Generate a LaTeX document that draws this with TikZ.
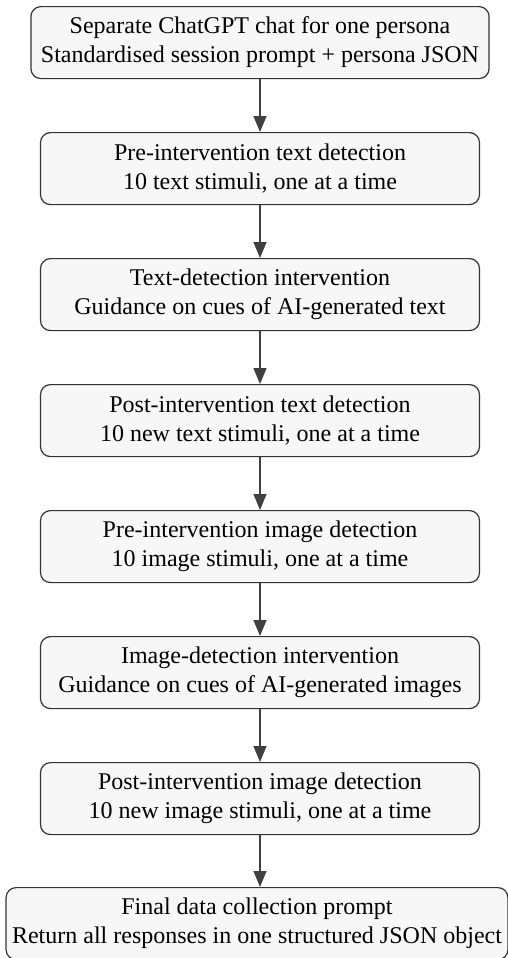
\documentclass[tikz,border=0pt]{standalone}
\usepackage{fontspec}
\setmainfont{Liberation Serif}
\usepackage{xcolor}
\usetikzlibrary{arrows.meta, positioning}

\begin{document}
\begin{tikzpicture}[
  x=1pt, y=1pt,
  every node/.style={font=\fontsize{12}{14.5}\selectfont},
  stage/.style={rectangle, draw=black!80, line width=0.6pt, fill=gray!6,
                rounded corners=5pt, minimum width=219.5pt,
                minimum height=36pt, inner xsep=5pt, align=center},
  flow/.style={-{Triangle[width=6.5pt,length=8pt]}, line width=0.6pt, black!75},
]
  \useasboundingbox (0,0) rectangle (254,-479);

  \node[stage, anchor=north] (chat) at (130,-3)
    {Separate ChatGPT chat for one persona\\Standardised session prompt + persona JSON};
  \node[stage, anchor=north] (pretext) at (130,-66)
    {Pre-intervention text detection\\10 text stimuli, one at a time};
  \node[stage, anchor=north] (textint) at (130,-129)
    {Text-detection intervention\\Guidance on cues of AI-generated text};
  \node[stage, anchor=north] (posttext) at (130,-192)
    {Post-intervention text detection\\10 new text stimuli, one at a time};
  \node[stage, anchor=north] (preimg) at (130,-255)
    {Pre-intervention image detection\\10 image stimuli, one at a time};
  \node[stage, anchor=north] (imgint) at (130,-318)
    {Image-detection intervention\\Guidance on cues of AI-generated images};
  \node[stage, anchor=north] (postimg) at (130,-381)
    {Post-intervention image detection\\10 new image stimuli, one at a time};
  \node[stage, anchor=north, inner xsep=3pt] (final) at (128.5,-443.5)
    {Final data collection prompt\\Return all responses in one structured JSON object};

  \draw[flow] (chat) -- (pretext);
  \draw[flow] (pretext) -- (textint);
  \draw[flow] (textint) -- (posttext);
  \draw[flow] (posttext) -- (preimg);
  \draw[flow] (preimg) -- (imgint);
  \draw[flow] (imgint) -- (postimg);
  \draw[flow] (postimg.south) -- (postimg.south |- final.north);
\end{tikzpicture}
\end{document}
